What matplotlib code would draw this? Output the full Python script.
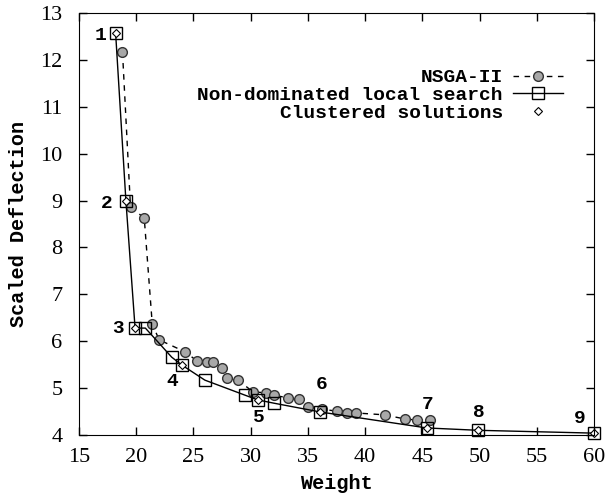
import matplotlib
matplotlib.use("Agg")
import matplotlib.pyplot as plt

# NSGA-II solutions (weight, scaled deflection)
nsga_w = [18.8, 19.5, 20.7, 21.4, 22.0, 24.3, 25.3, 26.2, 26.7, 27.5, 27.9, 28.9,
          30.2, 31.3, 32.0, 33.3, 34.2, 35.0, 36.2, 37.5, 38.4, 39.2, 41.7, 43.5,
          44.5, 45.7]
nsga_d = [12.17, 8.86, 8.63, 6.37, 6.03, 5.77, 5.58, 5.56, 5.56, 5.43, 5.22, 5.17,
          4.92, 4.90, 4.85, 4.79, 4.77, 4.60, 4.55, 4.51, 4.47, 4.47, 4.43, 4.34,
          4.32, 4.32]

# non-dominated local search
ls_w = [18.2, 19.1, 19.9, 20.8, 23.1, 24.0, 26.0, 29.5, 30.6, 32.0, 36.1, 45.4, 49.9, 60.0]
ls_d = [12.57, 8.99, 6.28, 6.28, 5.66, 5.49, 5.17, 4.85, 4.75, 4.68, 4.49, 4.15, 4.10, 4.04]

# clustered solutions
cl_w = [18.2, 19.1, 19.9, 24.0, 30.6, 36.1, 45.4, 49.9, 60.0]
cl_d = [12.57, 8.99, 6.28, 5.49, 4.75, 4.49, 4.15, 4.10, 4.04]
cl_lab = ["1", "2", "3", "4", "5", "6", "7", "8", "9"]
lab_off = [(-15, -2), (-19, -2), (-17, 0), (-10, -16), (1, -18),
           (1, 28), (1, 23), (0, 18), (-14, 15)]

mono = "Liberation Mono"
serif = "Liberation Serif"

fig = plt.figure(figsize=(6.05, 5.0), dpi=100)
ax = fig.add_axes([79/605, 1-435/500, (594-79)/605, (435-13)/500])

ax.plot(nsga_w, nsga_d, color="black", lw=1, ls=(0, (4, 4)), marker="o",
        ms=7, mfc="#a8a8a8", mec="#333333", mew=1, label="NSGA-II", clip_on=False)
ax.plot(ls_w, ls_d, color="black", lw=1, marker="s", ms=8.5, mfc="none",
        mec="black", mew=1, label="Non-dominated local search", clip_on=False)
ax.plot(cl_w, cl_d, ls="none", marker="D", ms=4, mfc="white", mec="black",
        mew=0.8, label="Clustered solutions", clip_on=False)

for w, d, s, off in zip(cl_w, cl_d, cl_lab, lab_off):
    ax.annotate(s, (w, d), xytext=off, textcoords="offset pixels",
                ha="center", va="center", fontsize=14, fontweight="bold",
                family=mono)

ax.set_xlim(15, 60)
ax.set_ylim(4, 13)
ax.set_xticks(range(15, 61, 5))
ax.set_yticks(range(4, 14))
ax.tick_params(direction="in", top=True, right=True, length=6, width=1,
               labelsize=16)
ax.tick_params(axis="x", pad=9)
ax.tick_params(axis="y", pad=12)
for t in ax.get_xticklabels() + ax.get_yticklabels():
    t.set_family(serif)

ax.set_xlabel("Weight", fontsize=14.5, fontweight="bold", family=mono, va="center")
ax.set_ylabel("Scaled Deflection", fontsize=14.5, fontweight="bold", family=mono,
              va="center")
ax.xaxis.set_label_coords(0.5, -0.116)
ax.yaxis.set_label_coords(-0.118, 0.5)

leg = ax.legend(loc="upper right", bbox_to_anchor=(0.94, 0.868), frameon=False,
                markerfirst=False, prop={"family": mono, "weight": "bold", "size": 14},
                handlelength=2.6, handletextpad=0.5, labelspacing=0.0,
                borderpad=0, borderaxespad=0)

fig.savefig("out.png", dpi=100)
